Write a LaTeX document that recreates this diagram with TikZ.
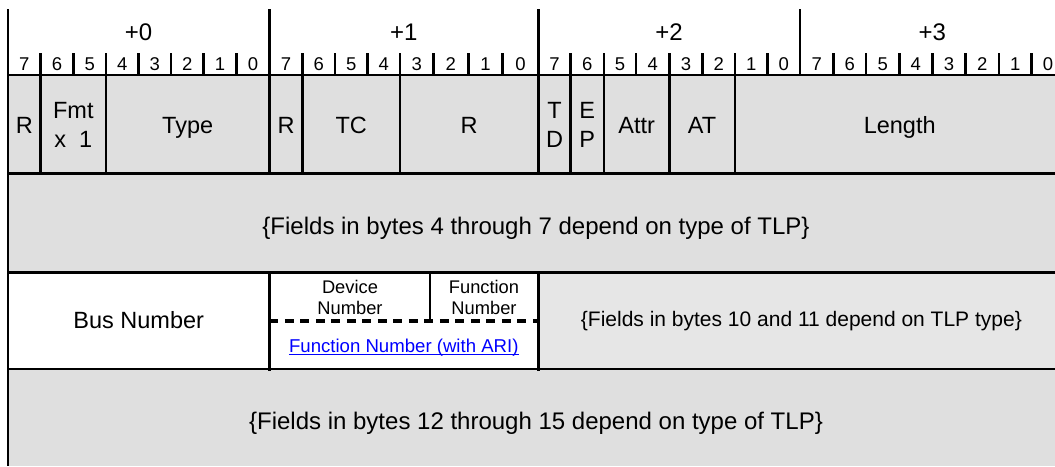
\documentclass[tikz,border=0pt]{standalone}
\usepackage{fontspec}
\setmainfont{Liberation Sans}
\usepackage{tikz}
\usetikzlibrary{calc}
\definecolor{cellfill}{RGB}{223,223,223}
\definecolor{celllight}{RGB}{230,230,230}
\definecolor{linkblue}{RGB}{0,0,255}
\newcommand{\fsz}[2]{\fontsize{#1}{#2}\selectfont}

\begin{document}
\begin{tikzpicture}[x=1pt, y=-1pt,
    rule/.style={line width=2.7pt},
    hdr/.style={anchor=base, inner sep=0pt, font=\fsz{24}{28}},
    bitlbl/.style={anchor=base, inner sep=0pt, font=\fsz{18.5}{20}},
    fld/.style={anchor=base, inner sep=0pt, align=center, font=\fsz{23.5}{29}},
    note/.style={anchor=base, inner sep=0pt, font=\fsz{24}{28}},
    tiny/.style={anchor=base, inner sep=0pt, align=center, font=\fsz{18.3}{20.7}}]
  \useasboundingbox (0,0) rectangle (1055,466);
  \fill[white] (0,0) rectangle (1055,466);

  % Shading of the rows
  \fill[cellfill] (8,75) rectangle (1055,272.7);
  \fill[celllight] (538.3,272.7) rectangle (1055,369);
  \fill[cellfill] (8,369) rectangle (1055,466);

  % Bit boundaries along the header rule
  \foreach \x [count=\i from 0] in {8,40.7,73.3,106,138.3,171,203.3,236.7,
      269.3,302.7,335,367.3,400,433.3,468.3,502.7,
      538.3,570.7,604,636,669.3,702.7,735,767.7,
      800,833.3,866,899.3,932.3,965.7,999,1031.7,1064.5}
    \coordinate (t\i) at (\x,75);

  % Bit numbers and ticks
  \foreach \i in {0,...,31} {
    \pgfmathtruncatemacro{\nxt}{\i+1}
    \pgfmathtruncatemacro{\bitno}{7-mod(\i,8)}
    \node[bitlbl] (bit\i) at ($(t\i)!0.5!(t\nxt)+(0,-4.6)$) {\bitno};
    \ifnum\bitno<7 \draw[rule] (t\i) -- ++(0,-22.5); \fi
  }

  % Byte offsets
  \foreach \k in {0,...,3} {
    \pgfmathtruncatemacro{\lo}{8*\k}
    \pgfmathtruncatemacro{\hi}{8*\k+8}
    \node[hdr] (off\k) at ($(t\lo)!0.5!(t\hi)+(0,-35)$) {+\k};
    \draw[rule] (t\lo) -- ++(0,-66);
  }

  % Row rules
  \foreach \y in {75,173.3,272.7,369}
    \draw[rule] (8,\y) -- (1055,\y);
  \draw[rule] (t0) -- (8,466);

  % DW0 fields (two-line labels sit on their last baseline)
  \foreach \i in {1,3,8,9,12,16,17,18,20,22}
    \draw[rule] (t\i) -- ++(0,98.3);
  \node[fld] (fR0) at (24.3,133.3) {R};
  \node[fld] (fFmt) at (73.3,147.3) {Fmt\\x~~1};
  \node[fld] (fType) at (187.7,133.3) {Type};
  \node[fld] (fR1) at (286,133.3) {R};
  \node[fld] (fTC) at (351.3,133.3) {TC};
  \node[fld] (fR2) at (469.2,133.3) {R};
  \node[fld] (fTD) at (554.5,147.3) {T\\D};
  \node[fld] (fEP) at (587.3,147.3) {E\\P};
  \node[fld] (fAttr) at (636.7,133.3) {Attr};
  \node[fld] (fAT) at (702,133.3) {AT};
  \node[fld] (fLen) at (899.7,133.3) {Length};

  % DW1
  \node[note] (dw1) at (536,234) {\{Fields in bytes 4 through 7 depend on type of TLP\}};

  % DW2: requester ID
  \draw[rule] (269.3,272.7) -- (269.3,370.7);
  \draw[rule] (538.3,272.7) -- (538.3,370.7);
  \draw[rule] (430,272.7) -- (430,321);
  \draw[rule, line width=3.2pt, dash pattern=on 9pt off 6.5pt] (269.3,321) -- (538.3,321);
  \node[fld] (busnum) at (138.7,328.3) {Bus Number};
  \node[tiny] (devnum) at (350,314) {Device\\Number};
  \node[tiny] (funcnum) at (484,314) {Function\\Number};
  \node[tiny, font=\fsz{18.6}{22}, text=linkblue] (funcari) at (403.8,352) {Function Number (with ARI)};
  \draw[linkblue, line width=1.2pt] ([yshift=-2.4pt]funcari.base west) -- ([yshift=-2.4pt]funcari.base east);
  \node[fld, font=\fsz{21}{25}] (dw2rest) at (801.4,326.7) {\{Fields in bytes 10 and 11 depend on TLP type\}};

  % DW3
  \node[note] (dw3) at (536,429.3) {\{Fields in bytes 12 through 15 depend on type of TLP\}};
\end{tikzpicture}
\end{document}
